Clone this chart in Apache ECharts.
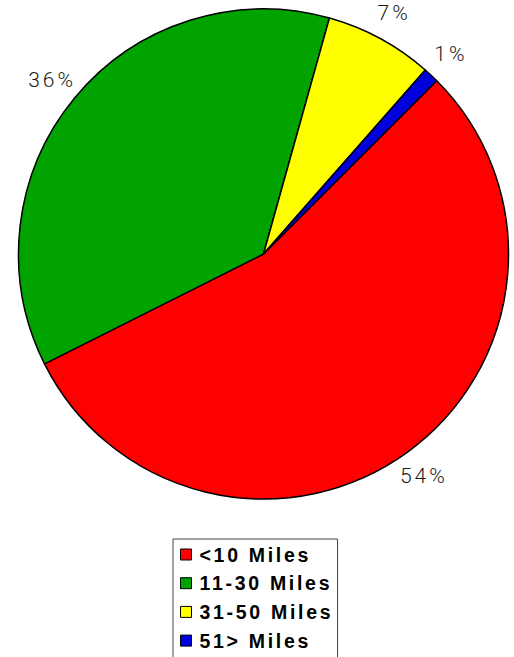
<!DOCTYPE html>
<html><head><meta charset="utf-8">
<script src="https://cdn.jsdelivr.net/npm/echarts@6/dist/echarts.min.js"></script>
<style>
html,body{margin:0;padding:0;background:#fff;}
#c{width:514px;height:657px;}
#c text[style*="Roboto"]{letter-spacing:3px;}
#c text[style*="Liberation"]{letter-spacing:2.7px;}
</style></head><body><div id="c"></div>
<script>
const categories = ['<10 Miles', '11-30 Miles', '31-50 Miles', '51> Miles'];
const percentValues = [54, 36, 7, 1];

const chart = echarts.init(document.getElementById('c'), null, {renderer: 'svg'});
const pieData = categories.map((n, i) => ({name: n, value: percentValues[i]}));
chart.setOption({
  animation: false,
  color: ['#ff0000', '#00a300', '#ffff00', '#0000dd'],
  legend: {
    orient: 'vertical', left: 173, top: 539, height: 160,
    icon: 'rect', itemWidth: 11, itemHeight: 11, itemGap: 8.7,
    padding: [5.5, 34, 30, 7],
    borderColor: '#444', borderWidth: 1,
    itemStyle: {borderColor: '#000', borderWidth: 1},
    textStyle: {fontFamily: 'Liberation Sans', fontWeight: 'bold', fontSize: 19.5, color: '#000', lineHeight: 20, padding: [0, 0, 0, 3]},
    selectedMode: false,
    data: categories
  },
  series: [{
    type: 'pie', center: [263.5, 254], radius: 245, startAngle: 45, clockwise: true,
    data: pieData,
    itemStyle: {borderColor: '#000', borderWidth: 1.5},
    label: {show: false}, labelLine: {show: false},
    emphasis: {disabled: true}, silent: true
  }, {
    type: 'pie', center: [263.5, 254], radius: [270, 272], startAngle: 45, clockwise: true,
    data: pieData,
    itemStyle: {color: 'rgba(0,0,0,0)', borderWidth: 0},
    label: {show: true, position: 'inside', formatter: '{c}%', fontFamily: 'Roboto', fontWeight: 300, fontSize: 21, color: '#1a1a1a', textBorderWidth: 0},
    labelLine: {show: false},
    emphasis: {disabled: true}, silent: true
  }]
});
</script></body></html>
